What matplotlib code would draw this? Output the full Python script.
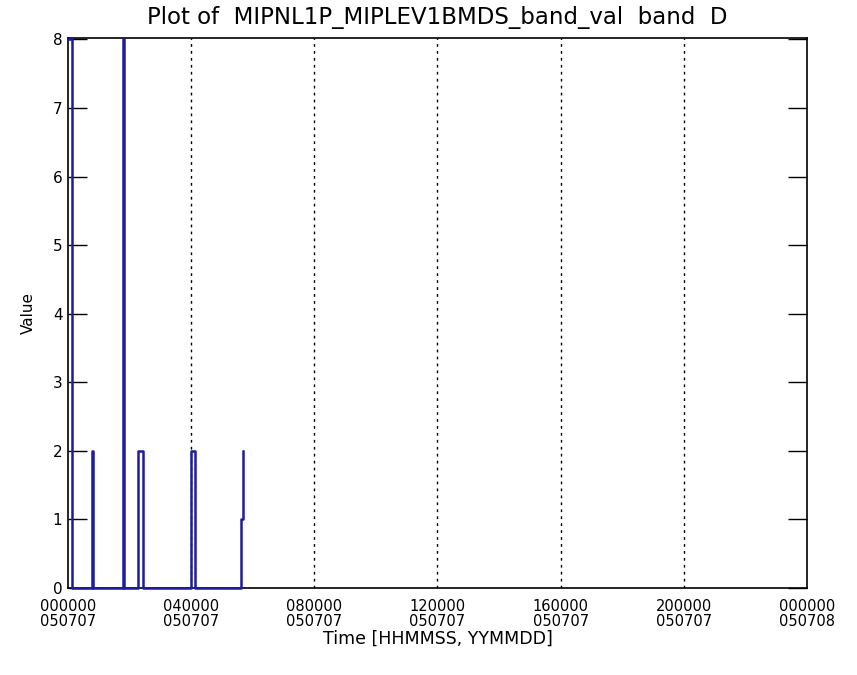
import matplotlib
matplotlib.use("Agg")
import matplotlib.pyplot as plt

# band value record (time in hours after 000000 050707)
time_hours = [0.0, 0.146, 0.146, 0.77, 0.77, 0.80, 0.80, 1.78, 1.78, 1.82, 1.82,
              2.28, 2.28, 2.43, 2.43, 3.99, 3.99, 4.14, 4.14, 5.62, 5.62, 5.68, 5.68]
band_val = [8, 8, 0, 0, 2, 2, 0, 0, 8, 8, 0,
            0, 2, 2, 0, 0, 2, 2, 0, 0, 1, 1, 2]

tick_hours = [0, 4, 8, 12, 16, 20, 24]
tick_labels = ["000000\n050707", "040000\n050707", "080000\n050707", "120000\n050707",
               "160000\n050707", "200000\n050707", "000000\n050708"]
y_ticks = [0, 1, 2, 3, 4, 5, 6, 7, 8]


def main():
    fig = plt.figure(figsize=(8.57, 6.75), dpi=100)
    ax = fig.add_axes([0.0793, 0.1289, 0.8624, 0.8148])

    for h in tick_hours[1:-1]:
        ax.axvline(h, color="black", lw=1, linestyle=(0, (2, 3)), zorder=1)

    ax.plot(time_hours, band_val, color="#1c1ca0", lw=1.8, clip_on=False, zorder=3)

    ax.set_xlim(0, 24)
    ax.set_ylim(0, 8.02)
    ax.set_xticks(tick_hours)
    ax.set_xticklabels(tick_labels, fontsize=10.5, linespacing=0.95)
    ax.tick_params(axis="x", length=0, pad=8)
    ax.set_yticks(y_ticks)
    ax.tick_params(axis="y", direction="in", length=14, width=1, right=True,
                   labelsize=11, pad=4)
    for s in ax.spines.values():
        s.set_linewidth(1.2)

    ax.set_title("Plot of  MIPNL1P_MIPLEV1BMDS_band_val  band  D", fontsize=16.5, pad=10)
    ax.set_xlabel("Time [HHMMSS, YYMMDD]", fontsize=12.5, labelpad=1)
    ax.set_ylabel("Value", fontsize=11, labelpad=12)

    plt.savefig("out.png", dpi=100)


if __name__ == "__main__":
    main()
